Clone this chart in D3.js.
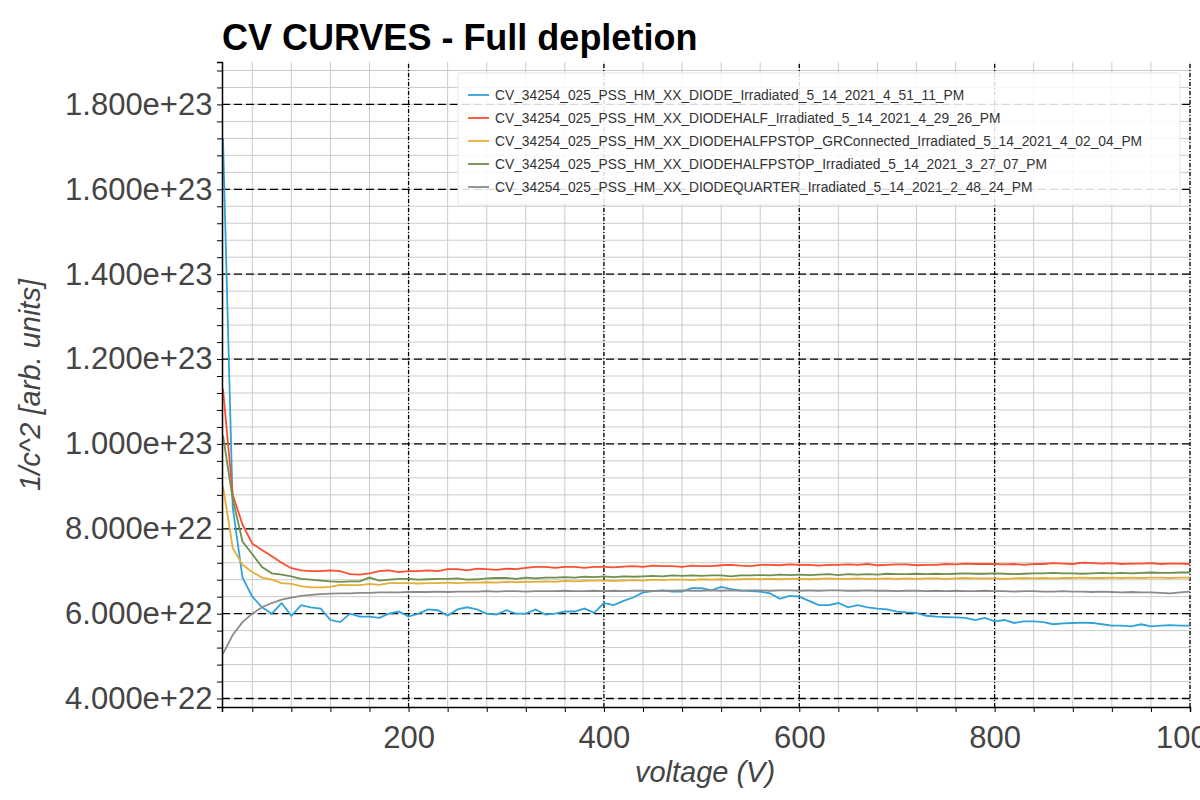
<!DOCTYPE html>
<head>
  <meta charset="utf-8">
  <title>CV CURVES - Full depletion</title>
  <style>
    body { margin: 0; background: #fff; font-family: "Liberation Sans", Arial, sans-serif; }
  </style>
  <script src="https://cdn.jsdelivr.net/npm/d3@7/dist/d3.min.js"></script>
</head>
<body>
  <script>
    // voltage steps, 10 V .. 1000 V
    var voltage = d3.range(10, 1001, 10);

    var seriesNames = [
      "CV_34254_025_PSS_HM_XX_DIODE_Irradiated_5_14_2021_4_51_11_PM",
      "CV_34254_025_PSS_HM_XX_DIODEHALF_Irradiated_5_14_2021_4_29_26_PM",
      "CV_34254_025_PSS_HM_XX_DIODEHALFPSTOP_GRConnected_Irradiated_5_14_2021_4_02_04_PM",
      "CV_34254_025_PSS_HM_XX_DIODEHALFPSTOP_Irradiated_5_14_2021_3_27_07_PM",
      "CV_34254_025_PSS_HM_XX_DIODEQUARTER_Irradiated_5_14_2021_2_48_24_PM"
    ];
    var colors = ["#30a2da", "#fc4f30", "#e5ae38", "#6d904f", "#8b8b8b"];

    // values in units of 1e22
    var diode = [17.2, 8.5, 6.85, 6.4, 6.15, 6.0, 6.25, 5.95, 6.2, 6.15,
      6.12, 5.85, 5.8, 6.0, 5.93, 5.93, 5.9, 6.0, 6.05, 5.93,
      6.0, 6.1, 6.08, 5.95, 6.1, 6.15, 6.1, 6.0, 5.98, 6.08,
      6.0, 6.0, 6.1, 5.98, 6.0, 6.05, 6.05, 6.12, 6.02, 6.25,
      6.2, 6.3, 6.38, 6.5, 6.53, 6.55, 6.52, 6.52, 6.6, 6.6,
      6.55, 6.63, 6.58, 6.55, 6.53, 6.52, 6.48, 6.35, 6.42, 6.4,
      6.3, 6.2, 6.2, 6.25, 6.15, 6.2, 6.15, 6.12, 6.1, 6.05,
      6.03, 6.02, 5.95, 5.93, 5.92, 5.91, 5.9, 5.85, 5.9, 5.82,
      5.85, 5.78, 5.82, 5.82, 5.8, 5.75, 5.77, 5.78, 5.79, 5.78,
      5.75, 5.72, 5.72, 5.7, 5.75, 5.7, 5.72, 5.73, 5.72, 5.72];
    var diodeHalf = [11.3, 8.8, 8.1, 7.65, 7.5, 7.35, 7.2, 7.07, 7.02, 7.0,
      7.0, 7.02, 7.0, 6.93, 6.92, 6.95, 7.0, 7.02, 6.98, 7.0,
      7.0, 7.02, 7.0, 7.05, 7.05, 7.02, 7.06, 7.05, 7.03, 7.06,
      7.05, 7.08, 7.1, 7.1, 7.08, 7.1, 7.1, 7.08, 7.1, 7.1,
      7.09, 7.11, 7.12, 7.1, 7.13, 7.12, 7.12, 7.1, 7.13, 7.12,
      7.12, 7.14, 7.15, 7.13, 7.12, 7.15, 7.15, 7.14, 7.16, 7.15,
      7.15, 7.13, 7.15, 7.15, 7.16, 7.15, 7.17, 7.14, 7.15, 7.16,
      7.16, 7.14, 7.15, 7.15, 7.17, 7.16, 7.18, 7.17, 7.17, 7.17,
      7.16, 7.17, 7.15, 7.17, 7.17, 7.19, 7.18, 7.17, 7.2, 7.19,
      7.18, 7.19, 7.17, 7.18, 7.18, 7.19, 7.17, 7.18, 7.18, 7.17];
    var diodeHalfPstopGr = [9.0, 7.55, 7.15, 6.98, 6.85, 6.8, 6.72, 6.7, 6.65, 6.62,
      6.62, 6.63, 6.68, 6.67, 6.67, 6.7, 6.68, 6.72, 6.72, 6.72,
      6.71, 6.72, 6.72, 6.73, 6.72, 6.73, 6.73, 6.74, 6.73, 6.75,
      6.74, 6.75, 6.75, 6.76, 6.75, 6.77, 6.76, 6.77, 6.78, 6.78,
      6.77, 6.78, 6.79, 6.78, 6.8, 6.79, 6.8, 6.8, 6.79, 6.81,
      6.8, 6.81, 6.8, 6.81, 6.82, 6.81, 6.82, 6.81, 6.82, 6.82,
      6.81, 6.82, 6.83, 6.82, 6.82, 6.83, 6.82, 6.82, 6.83, 6.82,
      6.83, 6.82, 6.83, 6.83, 6.82, 6.83, 6.84, 6.83, 6.83, 6.83,
      6.82, 6.83, 6.84, 6.83, 6.84, 6.83, 6.84, 6.84, 6.85, 6.84,
      6.84, 6.85, 6.84, 6.85, 6.84, 6.85, 6.85, 6.84, 6.85, 6.85];
    var diodeHalfPstop = [10.2, 8.7, 7.7, 7.4, 7.1, 6.95, 6.92, 6.88, 6.82, 6.8,
      6.78, 6.76, 6.75, 6.76, 6.76, 6.85, 6.78, 6.8, 6.82, 6.82,
      6.8, 6.81, 6.82, 6.82, 6.83, 6.8, 6.81, 6.83, 6.84, 6.84,
      6.82, 6.85, 6.83, 6.85, 6.85, 6.86, 6.85, 6.87, 6.86, 6.88,
      6.86, 6.88, 6.87, 6.88, 6.89, 6.88, 6.9, 6.89, 6.9, 6.89,
      6.9, 6.9, 6.88, 6.9, 6.9, 6.91, 6.9, 6.92, 6.91, 6.92,
      6.91, 6.92, 6.93, 6.91, 6.93, 6.92, 6.93, 6.92, 6.94, 6.93,
      6.93, 6.94, 6.93, 6.94, 6.93, 6.94, 6.95, 6.94, 6.94, 6.95,
      6.94, 6.93, 6.94, 6.95, 6.95, 6.96, 6.95, 6.95, 6.94, 6.95,
      6.96, 6.95, 6.96, 6.95, 6.96, 6.97, 6.96, 6.96, 6.97, 6.97];
    var diodeQuarter = [5.05, 5.5, 5.8, 6.0, 6.15, 6.25, 6.33, 6.38, 6.42, 6.44,
      6.46, 6.47, 6.48, 6.48, 6.49, 6.49, 6.5, 6.5, 6.5, 6.51,
      6.51, 6.51, 6.52, 6.51, 6.52, 6.52, 6.52, 6.53, 6.52, 6.53,
      6.53, 6.52, 6.53, 6.53, 6.53, 6.54, 6.53, 6.53, 6.54, 6.53,
      6.54, 6.53, 6.54, 6.54, 6.53, 6.54, 6.54, 6.55, 6.54, 6.54,
      6.55, 6.54, 6.55, 6.54, 6.55, 6.55, 6.54, 6.55, 6.55, 6.54,
      6.55, 6.54, 6.55, 6.55, 6.54, 6.54, 6.55, 6.54, 6.54, 6.53,
      6.54, 6.54, 6.53, 6.54, 6.53, 6.54, 6.53, 6.53, 6.54, 6.53,
      6.53, 6.52, 6.53, 6.53, 6.52, 6.52, 6.53, 6.52, 6.52, 6.51,
      6.52, 6.51, 6.5, 6.51, 6.5, 6.5, 6.49, 6.48, 6.5, 6.52];
    var seriesValues = [diode, diodeHalf, diodeHalfPstopGr, diodeHalfPstop, diodeQuarter];

    var xMajorTicks = [200, 400, 600, 800, 1000];
    var yMajorTicks = [4e22, 6e22, 8e22, 1e23, 1.2e23, 1.4e23, 1.6e23, 1.8e23];

    var width = 1200, height = 800;
    var margin = {top: 62, right: 10, bottom: 93, left: 222};

    var svg = d3.select("body").append("svg")
      .attr("width", width).attr("height", height);

    var x = d3.scaleLinear().domain([9, 1000]).range([margin.left, width - margin.right]);
    var y = d3.scaleLinear().domain([3.8e22, 1.9e23]).range([height - margin.bottom, margin.top]);

    var xMinor = d3.range(40, 1001, 40);
    var yMinor = d3.range(4e22, 1.9e23, 4e21);

    // minor grid
    svg.append("g").selectAll("line").data(xMinor).join("line")
      .attr("x1", d => x(d)).attr("x2", d => x(d))
      .attr("y1", y.range()[0]).attr("y2", y.range()[1])
      .attr("stroke", "#cbcbcb").attr("stroke-width", 1);
    svg.append("g").selectAll("line").data(yMinor).join("line")
      .attr("x1", x.range()[0]).attr("x2", x.range()[1])
      .attr("y1", d => y(d)).attr("y2", d => y(d))
      .attr("stroke", "#cbcbcb").attr("stroke-width", 1);

    // major grid
    svg.append("g").selectAll("line").data(xMajorTicks).join("line")
      .attr("x1", d => x(d)).attr("x2", d => x(d))
      .attr("y1", y.range()[0]).attr("y2", y.range()[1])
      .attr("stroke", "#000").attr("stroke-width", 1.3)
      .attr("stroke-dasharray", "4,2,1,2");
    svg.append("g").selectAll("line").data(yMajorTicks).join("line")
      .attr("x1", x.range()[0]).attr("x2", x.range()[1])
      .attr("y1", d => y(d)).attr("y2", d => y(d))
      .attr("stroke", "#000").attr("stroke-width", 1.3)
      .attr("stroke-dasharray", "8,4");

    // curves
    var line = d3.line().x((d, i) => x(voltage[i])).y(d => y(d * 1e22));
    svg.append("g").selectAll("path").data(seriesValues).join("path")
      .attr("d", line).attr("fill", "none")
      .attr("stroke", (d, i) => colors[i]).attr("stroke-width", 1.8);

    // axes
    var xAxis = svg.append("g")
      .attr("transform", "translate(0," + y.range()[0] + ")")
      .call(d3.axisBottom(x).tickValues(xMinor).tickSize(5).tickFormat(d => xMajorTicks.includes(d) ? d : ""));
    xAxis.selectAll("text").attr("font-size", 31).attr("fill", "#444")
      .attr("font-family", "Liberation Sans, Arial, sans-serif").attr("dy", "1.05em");
    var yAxis = svg.append("g")
      .attr("transform", "translate(" + x.range()[0] + ",0)")
      .call(d3.axisLeft(y).tickValues(yMinor).tickSize(5)
        .tickFormat(d => yMajorTicks.some(t => Math.abs(t - d) < 1e19) ? d3.format(".3e")(d) : ""));
    yAxis.selectAll("text").attr("font-size", 31).attr("fill", "#444")
      .attr("font-family", "Liberation Sans, Arial, sans-serif").attr("dx", "-0.05em");
    svg.selectAll(".domain").attr("stroke", "#000").attr("stroke-width", 1.5);

    // titles
    svg.append("text").attr("x", 222).attr("y", 50)
      .attr("font-size", 36).attr("font-weight", "bold").attr("fill", "#000")
      .text("CV CURVES - Full depletion");
    svg.append("text").attr("x", 705).attr("y", 782).attr("text-anchor", "middle")
      .attr("font-size", 29).attr("font-style", "italic").attr("fill", "#444")
      .text("voltage (V)");
    svg.append("text").attr("transform", "translate(40,385) rotate(-90)").attr("text-anchor", "middle")
      .attr("font-size", 29).attr("font-style", "italic").attr("fill", "#444")
      .text("1/c^2 [arb. units]");

    // legend
    var lg = svg.append("g").attr("transform", "translate(458,73)");
    lg.append("rect").attr("width", 722).attr("height", 132).attr("rx", 2)
      .attr("fill", "#fff").attr("fill-opacity", 0.85).attr("stroke", "#e6e6e6");
    var items = lg.selectAll("g.item").data(seriesNames).join("g")
      .attr("transform", (d, i) => "translate(0," + (22 + i * 23) + ")");
    items.append("line").attr("x1", 10).attr("x2", 31)
      .attr("stroke", (d, i) => colors[i]).attr("stroke-width", 1.8);
    items.append("text").attr("x", 37).attr("dy", "0.35em")
      .attr("font-size", 13.8).attr("fill", "#333").text(d => d);
  </script>
</body>
